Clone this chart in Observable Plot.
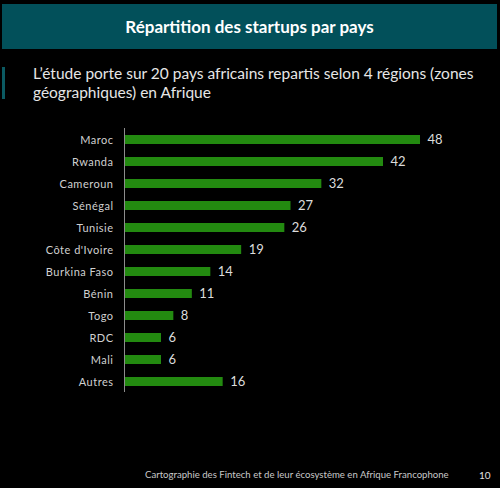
<!DOCTYPE html>
<html>
<head>
<meta charset="utf-8">
<script src="https://cdn.jsdelivr.net/npm/d3@7"></script>
<script src="https://cdn.jsdelivr.net/npm/@observablehq/plot@0.6"></script>
<style>
  html, body { margin: 0; padding: 0; background: #000; width: 500px; height: 488px; overflow: hidden; font-family: Lato, "Open Sans", sans-serif; }
  #titlebar { position: absolute; left: 2px; top: 4px; width: 495px; height: 45px; background: #02505a; color: #fff; font-weight: bold; font-size: 17px; display: flex; align-items: center; justify-content: center; }
  #accent { position: absolute; left: 2px; top: 67px; width: 3px; height: 32px; background: #0b5a62; }
  #subtitle { position: absolute; left: 33px; top: 64px; width: 460px; color: #e6e6e6; font-size: 15.5px; line-height: 19px; }
  #chart { position: absolute; left: 0; top: 118px; }
  #chart svg g[aria-label="y-axis tick label"] text { letter-spacing: 0.5px; }
  #footer { position: absolute; left: 145px; top: 469px; color: #c8c8c8; font-size: 9.6px; }
  #page { position: absolute; left: 479px; top: 469px; color: #e0e0e0; font-size: 10px; }
</style>
</head>
<body>
<div id="titlebar">Répartition des startups par pays</div>
<div id="accent"></div>
<div id="subtitle">L’étude porte sur 20 pays africains repartis selon 4 régions (zones géographiques) en Afrique</div>
<div id="chart"></div>
<div id="footer">Cartographie des Fintech et de leur écosystème en Afrique Francophone</div>
<div id="page">10</div>
<script>
const countries = ["Maroc", "Rwanda", "Cameroun", "Sénégal", "Tunisie", "Côte d'Ivoire", "Burkina Faso", "Bénin", "Togo", "RDC", "Mali", "Autres"];
const startups = [48, 42, 32, 27, 26, 19, 14, 11, 8, 6, 6, 16];

const data = countries.map((c, i) => ({country: c, value: startups[i]}));

const chart = Plot.plot({
  width: 500,
  height: 284,
  marginLeft: 124,
  marginRight: 6,
  marginTop: 10,
  marginBottom: 10,
  style: {background: "transparent", fontFamily: "Lato, 'Open Sans', sans-serif"},
  x: {domain: [0, 60], axis: null},
  y: {domain: countries, paddingInner: 0.6, paddingOuter: 0.3, label: null},
  marks: [
    Plot.barX(data, {x: "value", y: "country", fill: "#238a10"}),
    Plot.ruleX([0], {stroke: "#8c8c8c", strokeWidth: 1}),
    Plot.text(data, {x: "value", y: "country", text: d => String(d.value), textAnchor: "start", dx: 7, fill: "#dcdcdc", fontSize: 13}),
    Plot.axisY({tickSize: 0, tickPadding: 11, fontSize: 11, color: "#d0d0d0", label: null})
  ]
});
document.getElementById("chart").appendChild(chart);
</script>
</body>
</html>
